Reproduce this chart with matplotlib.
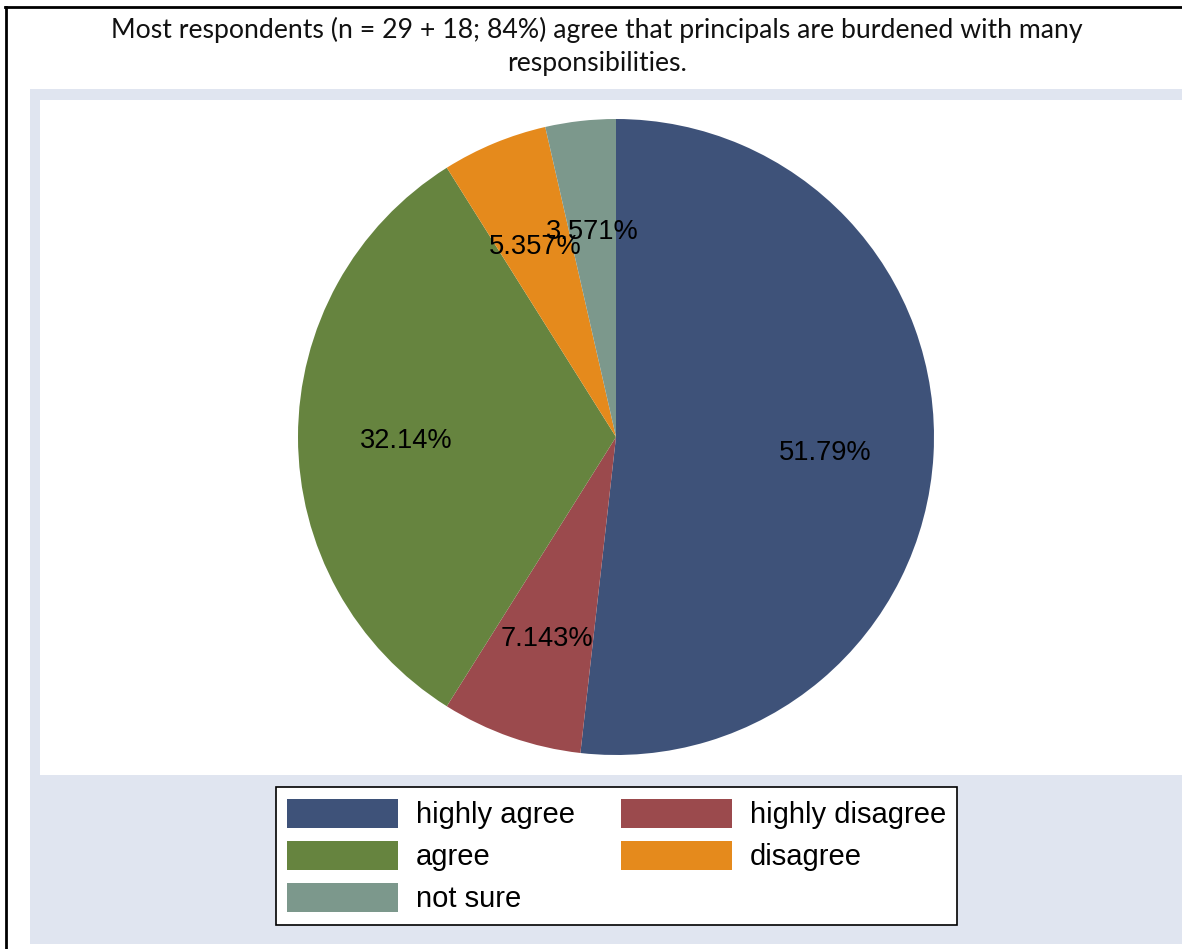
import matplotlib
matplotlib.use("Agg")
import matplotlib.pyplot as plt
from matplotlib.patches import Patch, Rectangle
from matplotlib.lines import Line2D

# data (respondent counts, n = 56)
categories = ['highly agree', 'highly disagree', 'agree', 'disagree', 'not sure']
counts = [29, 4, 18, 3, 2]
colors = ['#3e5279', '#9b4a4d', '#66843f', '#e58a1c', '#7c988c']

title = ("Most respondents (n = 29 + 18; 84%) agree that principals are burdened with many\n"
         "responsibilities.")

W, H = 1182, 949
fig = plt.figure(figsize=(W / 100, H / 100), dpi=100)
fig.patch.set_facecolor('white')

def fx(px):
    return px / W

def fy(py):
    return 1 - py / H

# light stata-style graph region (behind the axes)
fig.patches.append(Rectangle((fx(30), fy(944)), fx(1182) - fx(30), fy(89) - fy(944),
                             transform=fig.transFigure, facecolor='#e0e5f0',
                             edgecolor='none', zorder=-1))

# document frame lines
fig.lines.append(Line2D([fx(5), fx(1182)], [fy(7), fy(7)], transform=fig.transFigure,
                        color='black', lw=2))
fig.lines.append(Line2D([fx(6), fx(6)], [fy(7), fy(949)], transform=fig.transFigure,
                        color='black', lw=2))

fig.text(fx(597), fy(46.5), title, ha='center', va='center', fontsize=19.2,
         family=['Lato', 'DejaVu Sans'], color='#111111', linespacing=1.42)

# plot region (white), pie centred at pixel (616, 437), radius 318
ax = fig.add_axes([fx(40), fy(775), fx(1182) - fx(40), fy(100) - fy(775)])
ax.set_facecolor('white')

wedges, texts, autotexts = ax.pie(
    counts, colors=colors, startangle=90, counterclock=False, radius=318,
    autopct=lambda p: f"{p:.4g}%", pctdistance=0.66,
    wedgeprops=dict(edgecolor='none', linewidth=0),
    textprops=dict(fontsize=19.6, family='Liberation Sans', color='black'),
    frame=True)
for t in autotexts:
    x, y = t.get_position()
    t.set_position((x, y - 4))
ax.set_xlim(40 - 616, 1182 - 616)
ax.set_ylim(437 - 775, 437 - 100)
ax.set_aspect('auto')
ax.set_xticks([])
ax.set_yticks([])
for s in ax.spines.values():
    s.set_visible(False)

# legend: matplotlib fills columns first, so reorder to get row order
order = [0, 2, 4, 1, 3]
handles = [Patch(facecolor=colors[i], edgecolor='none') for i in order]
labels = [categories[i] for i in order]
leg = fig.legend(handles, labels, ncol=2, loc='center',
                 bbox_to_anchor=(fx(616.5), fy(856)),
                 prop=dict(family='Liberation Sans', size=21),
                 handlelength=3.8, handleheight=1.15, handletextpad=0.6,
                 labelspacing=0.4, columnspacing=1.6, borderpad=0.4,
                 frameon=True, fancybox=False, framealpha=1)
leg.get_frame().set_edgecolor('black')
leg.get_frame().set_linewidth(1.2)
leg.get_frame().set_facecolor('white')

fig.savefig('out.png', dpi=100, facecolor='white')
